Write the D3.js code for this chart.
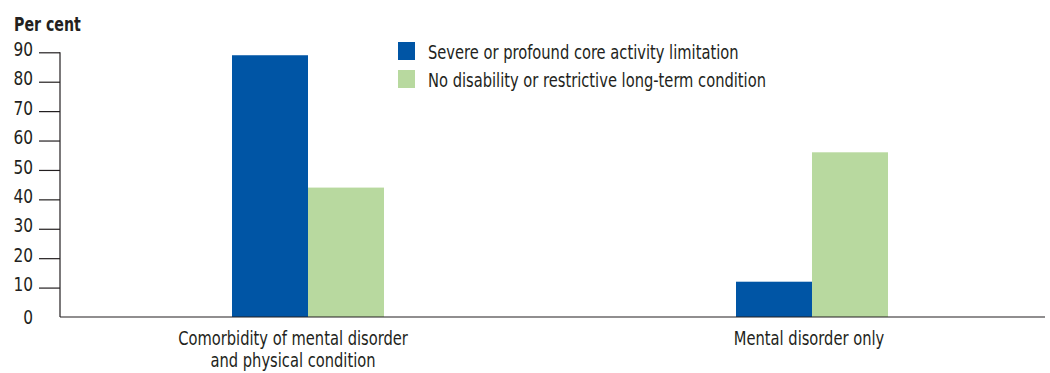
<!DOCTYPE html>
<html>
<head>
<meta charset="utf-8">
<script src="https://cdn.jsdelivr.net/npm/d3@7"></script>
<style>
  html, body { margin: 0; padding: 0; background: #fff; }
  text { font-family: "DejaVu Sans Condensed", "Liberation Sans Narrow", sans-serif; fill: #231f20; }
</style>
</head>
<body>
<svg id="chart" width="1050" height="373"></svg>
<script>
// Chart data
const categories = ["Comorbidity of mental disorder\nand physical condition", "Mental disorder only"];
const seriesNames = ["Severe or profound core activity limitation", "No disability or restrictive long-term condition"];
const severeValues = [89, 12];
const noDisabilityValues = [44, 56];
const yTicks = [10, 20, 30, 40, 50, 60, 70, 80, 90];
const yTickLabels = ["0", "10", "20", "30", "40", "50", "60", "70", "80", "90"];
const colours = ["#0055a5", "#b8d99f"];

const svg = d3.select("#chart");
const axisX = 60, baseY = 317, topY = 52.3, axisEnd = 1045;
const narrow = 0.86; // horizontal squeeze for a condensed look

const y = d3.scaleLinear().domain([0, 90]).range([baseY, topY]);
const x0 = d3.scaleBand().domain(categories).range([56, 1064]).padding(0);
const x1 = d3.scaleBand().domain(seriesNames).range([-76, 76]);
// category captions sit on a slightly wider band layout
const xLabel = d3.scaleBand().domain(categories).range([35, 1067]).padding(0);

const table = categories.map((c, i) => ({
  category: c,
  values: [
    { series: seriesNames[0], value: severeValues[i] },
    { series: seriesNames[1], value: noDisabilityValues[i] }
  ]
}));

// Bars
const groups = svg.append("g").selectAll("g")
  .data(table).join("g")
  .attr("transform", d => `translate(${x0(d.category) + x0.bandwidth() / 2},0)`);

groups.selectAll("rect")
  .data(d => d.values).join("rect")
  .attr("x", d => x1(d.series))
  .attr("width", x1.bandwidth())
  .attr("y", d => y(d.value))
  .attr("height", d => y(0) - y(d.value))
  .attr("fill", (d, i) => colours[i]);

// Y axis
const yAxis = d3.axisLeft(y).tickValues(yTicks).tickSize(21).tickFormat("");
const gy = svg.append("g").attr("transform", `translate(${axisX},0)`).call(yAxis);
gy.select(".domain").remove();
gy.selectAll(".tick line").attr("stroke", "#231f20").attr("stroke-width", 1.2);

svg.append("line")
  .attr("x1", axisX).attr("x2", axisX)
  .attr("y1", y(90)).attr("y2", baseY)
  .attr("stroke", "#231f20").attr("stroke-width", 1.2);
svg.append("line")
  .attr("x1", axisX).attr("x2", axisEnd)
  .attr("y1", baseY).attr("y2", baseY)
  .attr("stroke", "#231f20").attr("stroke-width", 1.2);

// Tick labels
svg.append("g").selectAll("text")
  .data(yTickLabels).join("text")
  .attr("transform", d => `translate(33,${y(+d) - (+d === 0 ? 0 : 3)}) scale(0.9,1)`)
  .attr("dy", "0.35em")
  .attr("text-anchor", "end")
  .attr("font-size", 19)
  .text(d => d);

// Axis title
svg.append("text")
  .attr("transform", "translate(14,31) scale(0.83,1)")
  .attr("font-size", 19)
  .attr("font-weight", "bold")
  .text("Per cent");

// Category labels
svg.append("g").selectAll("text")
  .data(categories).join("text")
  .attr("transform", d => `translate(${xLabel(d) + xLabel.bandwidth() / 2},345) scale(${narrow},1)`)
  .attr("text-anchor", "middle")
  .attr("font-size", 19)
  .each(function (d) {
    d3.select(this).selectAll("tspan").data(d.split("\n")).join("tspan")
      .attr("x", 0)
      .attr("dy", (l, i) => i === 0 ? 0 : 22)
      .text(l => l);
  });

// Legend
const legend = svg.append("g").selectAll("g")
  .data(seriesNames).join("g")
  .attr("transform", (d, i) => `translate(398,${42 + i * 28})`);
legend.append("rect")
  .attr("width", 17).attr("height", 18)
  .attr("fill", (d, i) => colours[i]);
legend.append("text")
  .attr("transform", `translate(30,17) scale(${narrow},1)`)
  .attr("font-size", 19)
  .text(d => d);
</script>
</body>
</html>
